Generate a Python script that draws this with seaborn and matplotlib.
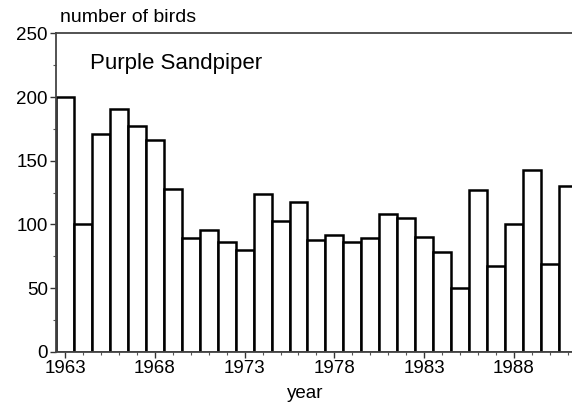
import matplotlib
matplotlib.use('Agg')
import matplotlib.pyplot as plt
import seaborn as sns
import pandas as pd
from matplotlib.ticker import MultipleLocator

# Purple Sandpiper counts per year
years = list(range(1963, 1992))
birds = [200, 100, 171, 191, 177, 166, 128, 89, 96, 86, 80, 124, 103, 118,
         88, 92, 86, 89, 108, 105, 90, 78, 50, 127, 67, 100, 143, 69, 130]
year_ticks = [1963, 1968, 1973, 1978, 1983, 1988]
y_ticks = [0, 50, 100, 150, 200, 250]

df = pd.DataFrame({'year': years, 'birds': birds})

sns.set_style('white')
plt.rcParams['font.family'] = ['Liberation Sans', 'DejaVu Sans']
plt.rcParams['text.color'] = 'black'
plt.rcParams['xtick.color'] = 'black'
plt.rcParams['ytick.color'] = 'black'

fig = plt.figure(figsize=(5.72, 4.03), dpi=100)
ax = fig.add_axes([0.098, 0.127, 0.902, 0.79])

sns.barplot(data=df, x='year', y='birds', order=years, color='white',
            edgecolor='black', linewidth=1.8, width=1.0, saturation=1, ax=ax)

ax.set_xlim(-0.5, 28.23)
ax.set_ylim(0, 250)
ax.set_xticks([years.index(y) for y in year_ticks])
ax.set_xticklabels([str(y) for y in year_ticks], fontsize=13.5, color='black')
ax.set_xticks(range(len(years)), minor=True)
ax.set_yticks(y_ticks)
ax.set_yticklabels([str(v) for v in y_ticks], fontsize=13.5, color='black')
ax.yaxis.set_minor_locator(MultipleLocator(25))
ax.tick_params(axis='both', which='major', direction='out', length=4, width=1,
               color='#333333', pad=2, bottom=True, left=True)
ax.tick_params(axis='both', which='minor', direction='out', length=2.5, width=0.8,
               color='#555555', bottom=True, left=True)

ax.set_xlabel('')
ax.set_ylabel('')
for s in ['left', 'bottom', 'top']:
    ax.spines[s].set_visible(True)
    ax.spines[s].set_color('#444444')
    ax.spines[s].set_linewidth(1.3)
ax.spines['right'].set_visible(False)

fig.text(60 / 572, 1 - 17 / 403, 'number of birds', fontsize=14, color='black',
         ha='left', va='center')
fig.text(305 / 572, 1 - 394 / 403, 'year', fontsize=13.5, color='black',
         ha='center', va='center')
ax.text(90 / 572, 1 - 63 / 403, 'Purple Sandpiper', fontsize=16, color='black',
        ha='left', va='center', transform=fig.transFigure)

fig.savefig('out.png', dpi=100)
